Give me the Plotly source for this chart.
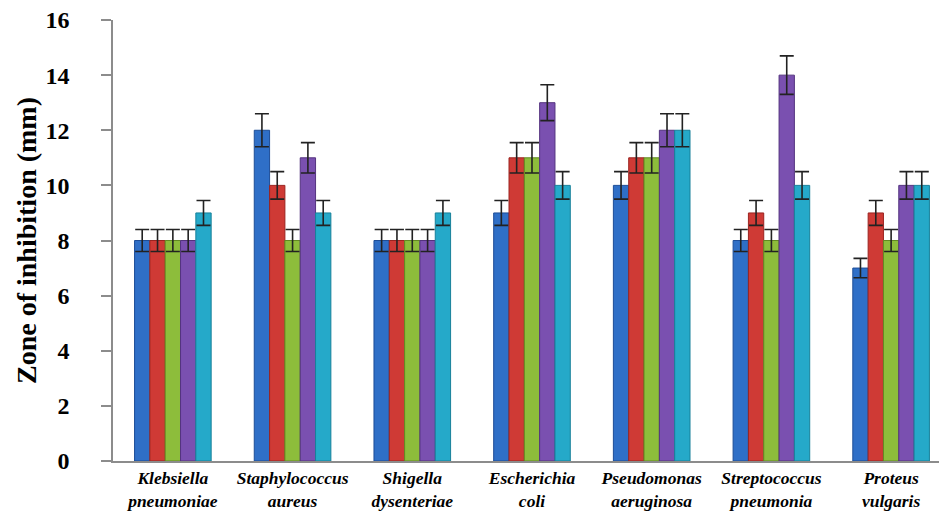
import plotly.graph_objects as go

# Bacterial strains (x categories)
strains = [
    "Klebsiella<br>pneumoniae",
    "Staphylococcus<br>aureus",
    "Shigella<br>dysenteriae",
    "Escherichia<br>coli",
    "Pseudomonas<br>aeruginosa",
    "Streptococcus<br>pneumonia",
    "Proteus<br>vulgaris",
]

# Zone of inhibition (mm) for five samples per strain
sample_1 = [8, 12, 8, 9, 10, 8, 7]
sample_2 = [8, 10, 8, 11, 11, 9, 9]
sample_3 = [8, 8, 8, 11, 11, 8, 8]
sample_4 = [8, 11, 8, 13, 12, 14, 10]
sample_5 = [9, 9, 9, 10, 12, 10, 10]

# Standard deviations (mm)
err_1 = [0.4, 0.6, 0.4, 0.45, 0.5, 0.4, 0.35]
err_2 = [0.4, 0.5, 0.4, 0.55, 0.55, 0.45, 0.45]
err_3 = [0.4, 0.4, 0.4, 0.55, 0.55, 0.4, 0.4]
err_4 = [0.4, 0.55, 0.4, 0.65, 0.6, 0.7, 0.5]
err_5 = [0.45, 0.45, 0.45, 0.5, 0.6, 0.5, 0.5]

series = [sample_1, sample_2, sample_3, sample_4, sample_5]
errors = [err_1, err_2, err_3, err_4, err_5]
fills = ["#2f6fc7", "#cf3a35", "#8dbd3b", "#7a50b0", "#25a9c9"]
edges = ["#1d4d97", "#9b2420", "#628a22", "#54337f", "#17809a"]

fig = go.Figure()
for vals, err, fill, edge in zip(series, errors, fills, edges):
    fig.add_trace(go.Bar(
        x=strains,
        y=vals,
        marker=dict(color=fill, line=dict(color=edge, width=1)),
        error_y=dict(type="data", array=err, visible=True,
                     color="#222222", thickness=1.6, width=7),
        showlegend=False,
    ))

serif = "Liberation Serif, Times New Roman, serif"

fig.update_layout(
    width=939,
    height=514,
    barmode="group",
    bargap=0.36,
    bargroupgap=0,
    plot_bgcolor="white",
    paper_bgcolor="white",
    margin=dict(l=113, r=0, t=20, b=53),
    xaxis=dict(
        range=[-0.5, 6.40],
        showline=True,
        linecolor="#8c8c8c",
        linewidth=1.5,
        ticks="",
        showgrid=False,
        tickfont=dict(family=serif, size=17.5, color="black", weight="bold",
                      style="italic"),
        automargin=False,
    ),
    yaxis=dict(
        range=[0, 16],
        tickvals=[0, 2, 4, 6, 8, 10, 12, 14, 16],
        showline=True,
        linecolor="#8c8c8c",
        linewidth=1.5,
        ticks="outside",
        ticklen=10,
        tickcolor="#8c8c8c",
        tickwidth=1.5,
        ticklabelstandoff=27,
        showgrid=False,
        zeroline=False,
        tickfont=dict(family=serif, size=24, color="black", weight="bold"),
        title=dict(text="Zone of inhibition (mm)",
                   font=dict(family=serif, size=28, color="black",
                             weight="bold"),
                   standoff=1),
        automargin=False,
    ),
)

fig.write_html("out.html")
